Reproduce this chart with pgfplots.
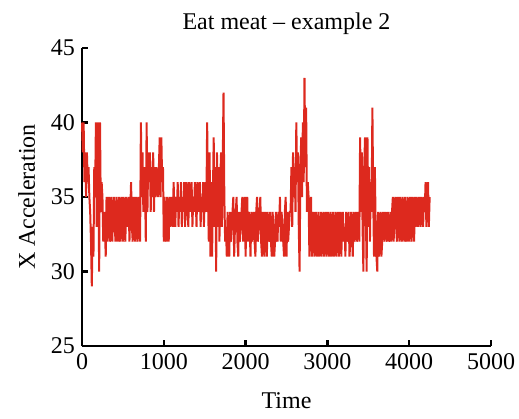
\documentclass[border=0pt]{standalone}
\usepackage{pgfplots}
\pgfplotsset{compat=1.18}
\usepackage{fontspec}
\setmainfont{Liberation Serif}
\definecolor{myred}{RGB}{221,41,30}
\begin{document}
\begin{tikzpicture}
\begin{axis}[
  name=ax,
  scale only axis,
  width=204.5pt, height=149pt,
  xmin=0, xmax=5000, ymin=25, ymax=45,
  xtick={0,1000,2000,3000,4000,5000},
  ytick={25,30,35,40,45},
  axis x line*=bottom, axis y line*=left,
  axis line style={-, line width=1.3pt, black},
  tick align=inside,
  major tick length=3pt,
  tick style={black, line width=1.2pt},
  /pgf/number format/assume math mode=true,
  /pgf/number format/1000 sep={},
  every tick label/.append style={font=\fontsize{12}{14}\selectfont, text=black},
  xlabel={Time}, ylabel={X Acceleration},
  label style={font=\fontsize{12}{14}\selectfont},
  xlabel style={yshift=-5pt},
  ylabel style={yshift=1pt},
  title={Eat meat -- example 2},
  title style={font=\fontsize{12}{14}\selectfont, yshift=-3pt},
  clip=false,
]
\addplot[color=myred, line width=1pt] coordinates {
(0,40)(10,38)(20,40)(30,36)(40,38)(50,35)(60,38)(70,36)(80,37)(90,35)
(100,34)(110,32)(120,29)(130,33)(140,31)(150,37)(160,35)(170,40)(180,33)(190,40)(200,36)(210,30)(220,40)(230,34)(240,36)
(250,35)(260,32)(270,34)(280,33)(290,31)(300,35)(310,32)(320,34)(330,35)(340,32)(350,33)(360,35)(370,32)(380,34)(390,35)(400,33)(410,32)(420,35)(430,34)(440,32)(450,35)(460,33)(470,32)(480,35)(490,34)(500,32)(510,35)(520,33)(530,32)(540,35)(550,34)(560,33)(570,35)(580,32)(590,34)(600,36)(610,33)(620,32)(630,35)(640,34)(650,32)(660,35)(670,33)(680,32)(690,35)(700,34)(710,32)
(720,40)(730,35)(740,38)(750,34)(760,37)(770,36)(780,32)(790,40)(800,34)(810,38)(820,36)(830,38)(840,34)(850,37)(860,35)(870,38)(880,34)(890,37)(900,35)(910,37)(920,36)(930,35)(940,37)(950,39)(960,35)(970,39)(980,36)(990,37)
(1000,32)(1010,35)(1020,33)(1030,32)(1040,35)(1050,34)(1060,32)(1070,35)(1080,33)(1090,35)(1100,34)(1110,33)(1120,36)(1130,34)(1140,33)(1150,35)(1160,34)(1170,36)(1180,33)(1190,35)(1200,34)(1210,36)(1220,33)(1230,35)(1240,34)(1250,36)(1260,33)(1270,35)(1280,36)(1290,34)(1300,33)(1310,36)(1320,35)(1330,34)(1340,36)(1350,33)(1360,35)(1370,34)(1380,36)(1390,35)(1400,33)(1410,36)(1420,34)(1430,35)(1440,36)(1450,33)(1460,35)(1470,34)(1480,36)(1490,33)(1500,35)(1510,36)(1520,34)
(1530,40)(1540,35)(1550,32)(1560,38)(1570,31)(1580,36)(1590,31)(1600,35)(1610,39)(1620,33)(1630,37)(1640,30)(1650,38)(1660,33)(1670,37)(1680,32)(1690,36)(1700,38)(1710,33)(1720,37)(1730,42)(1740,35)(1750,32)
(1760,33)(1770,31)(1780,34)(1790,32)(1800,31)(1810,34)(1820,32)(1830,33)(1840,34)(1850,35)(1860,31)(1870,33)(1880,34)(1890,35)(1900,32)(1910,31)(1920,34)(1930,32)(1940,33)(1950,34)(1960,35)(1970,32)(1980,34)(1990,35)(2000,31)(2010,34)(2020,35)(2030,32)(2040,34)(2050,33)(2060,31)(2070,34)(2080,32)(2090,33)(2100,34)(2110,32)(2120,31)(2130,34)(2140,35)(2150,32)(2160,33)(2170,34)(2180,35)(2190,32)(2200,31)(2210,34)(2220,32)(2230,31)(2240,34)(2250,33)(2260,31)(2270,34)(2280,32)(2290,33)(2300,34)(2310,32)(2320,31)(2330,34)(2340,33)(2350,31)(2360,32)(2370,34)(2380,33)(2390,32)(2400,34)(2410,33)(2420,35)(2430,32)(2440,34)(2450,33)(2460,32)(2470,31)(2480,34)(2490,35)(2500,31)(2510,34)(2520,32)(2530,33)(2540,34)
(2550,34)(2560,37)(2570,33)(2580,38)(2590,35)(2600,37)(2610,34)(2620,40)(2630,36)(2640,38)(2650,33)(2660,30)(2670,37)(2680,39)(2690,35)(2700,40)(2710,36)(2720,43)(2730,37)(2740,41)(2750,34)(2760,36)
(2770,35)(2780,31)(2790,34)(2800,35)(2810,31)(2820,33)(2830,34)(2840,31)(2850,32)(2860,34)(2870,31)(2880,33)(2890,34)(2900,31)(2910,32)(2920,34)(2930,31)(2940,33)(2950,34)(2960,31)(2970,32)(2980,34)(2990,31)(3000,33)(3010,34)(3020,31)(3030,32)(3040,34)(3050,31)(3060,33)(3070,34)(3080,31)(3090,32)(3100,34)(3110,31)(3120,33)(3130,34)(3140,31)(3150,32)(3160,34)(3170,31)(3180,33)(3190,34)(3200,32)(3210,33)(3220,31)(3230,34)(3240,32)(3250,33)(3260,34)(3270,31)(3280,32)(3290,34)(3300,33)(3310,31)(3320,34)(3330,32)(3340,33)(3350,34)(3360,32)(3370,33)(3380,34)(3390,32)
(3400,39)(3410,34)(3420,38)(3430,33)(3440,30)(3450,37)(3460,39)(3470,34)(3480,30)(3490,39)(3500,33)(3510,37)(3520,32)(3530,36)(3540,34)(3550,41)(3560,35)(3570,31)(3580,37)(3590,33)(3600,31)(3610,30)(3620,34)
(3630,31)(3640,33)(3650,34)(3660,31)(3670,32)(3680,34)(3690,33)(3700,32)(3710,34)(3720,33)(3730,32)(3740,34)(3750,32)(3760,33)(3770,34)(3780,32)(3790,34)(3800,35)(3810,32)(3820,34)(3830,35)(3840,33)(3850,32)(3860,35)(3870,34)(3880,32)(3890,35)(3900,33)(3910,32)(3920,35)(3930,34)(3940,32)(3950,35)(3960,33)(3970,32)(3980,35)(3990,34)(4000,32)(4010,35)(4020,33)(4030,32)(4040,35)(4050,34)(4060,32)(4070,35)(4080,33)(4090,35)(4100,34)(4110,33)(4120,35)(4130,34)(4140,33)(4150,35)(4160,34)(4170,33)(4180,35)(4190,34)(4200,36)(4210,33)(4220,35)(4230,36)(4240,33)(4250,35)
};
\end{axis}
\pgfresetboundingbox
\path[use as bounding box] ([shift={(-41pt,-36pt)}]ax.south west) rectangle ++(259.5pt,209pt);
\end{tikzpicture}
\end{document}
